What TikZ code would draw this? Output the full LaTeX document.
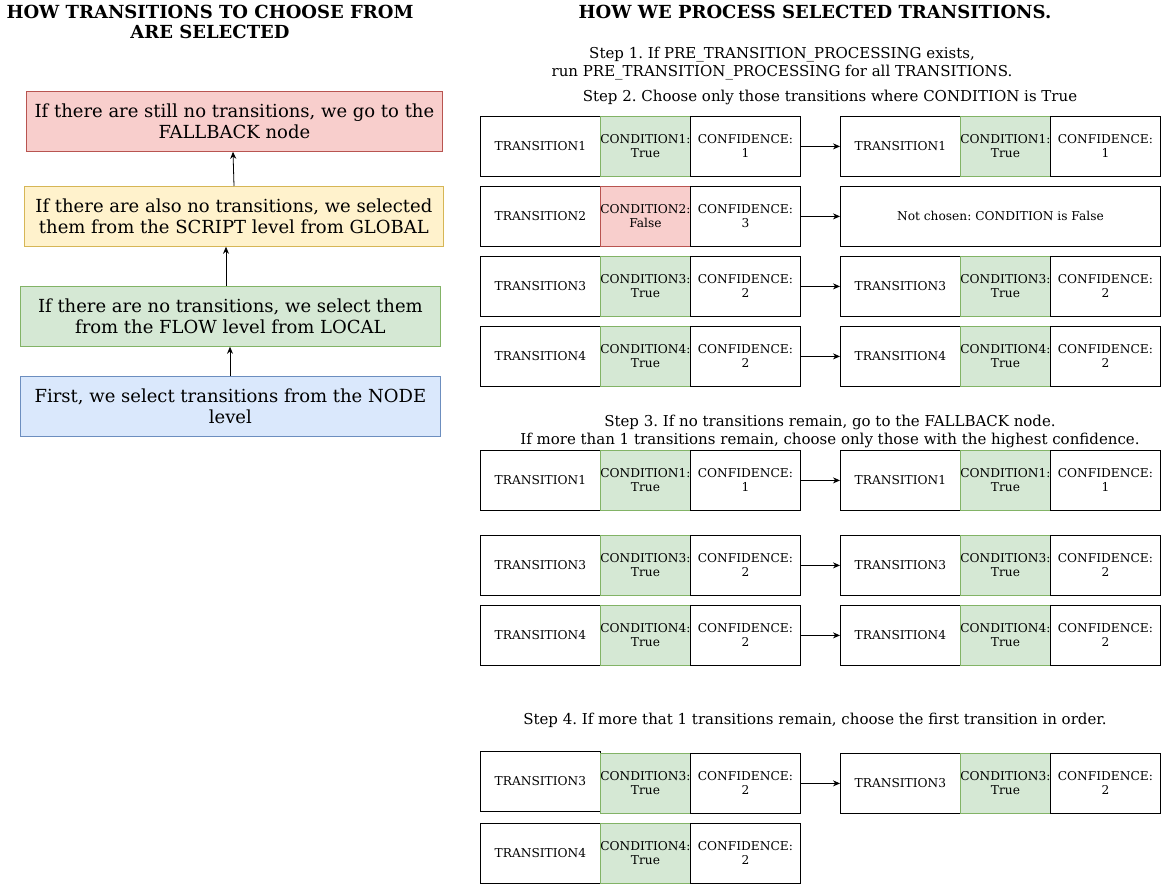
\documentclass[tikz,border=0pt]{standalone}
\usepackage{fontspec}
\setmainfont{DejaVu Serif}
\usetikzlibrary{arrows.meta}
\frenchspacing
\definecolor{gfill}{HTML}{D5E8D4}\definecolor{gline}{HTML}{82B366}
\definecolor{rfill}{HTML}{F8CECC}\definecolor{rline}{HTML}{B85450}
\definecolor{yfill}{HTML}{FFF2CC}\definecolor{yline}{HTML}{D6B656}
\definecolor{bfill}{HTML}{DAE8FC}\definecolor{bline}{HTML}{6C8EBF}
\tikzset{
  cell/.style={draw, line width=0.8pt, minimum height=60pt, inner sep=0pt, align=center,
    font=\fontsize{12.2}{14}\selectfont, anchor=north west},
  ok/.style={fill=gfill, draw=gline},
  bad/.style={fill=rfill, draw=rline},
  bigbox/.style={draw, line width=0.8pt, minimum height=60pt, inner sep=0pt, align=center,
    font=\fontsize{18}{21}\selectfont, anchor=north west},
  title/.style={align=center, font=\bfseries\fontsize{18}{20}\selectfont},
  steptxt/.style={align=center, font=\fontsize{15}{18}\selectfont},
  arr/.style={-{Stealth[length=7pt,width=6pt]}, line width=0.8pt},
}
\newcommand\tgrp[7]{%
  \node[cell, minimum width=120pt] (#1t) at (#2,#3) {#4};
  \node[cell, #6, minimum width=90pt] (#1c) at ({#2+120},#3) {#5};
  \node[cell, minimum width=110pt] (#1f) at ({#2+210},#3) {CONFIDENCE:\\#7};
}
\begin{document}
\begin{tikzpicture}[x=1pt,y=-1pt]
\useasboundingbox (0,0) rectangle (1162,885);
% left column
\node[title] (lt) at (210,22) {HOW TRANSITIONS TO CHOOSE FROM\\ARE SELECTED};
\node[bigbox, fill=rfill, draw=rline, minimum width=416pt] (red) at (26,91) {If there are still no transitions, we go to the\\FALLBACK node};
\node[bigbox, fill=yfill, draw=yline, minimum width=419pt] (yel) at (24,186) {If there are also no transitions, we selected\\them from the SCRIPT level from GLOBAL};
\node[bigbox, fill=gfill, draw=gline, minimum width=420pt] (grn) at (20,286) {If there are no transitions, we select them\\from the FLOW level from LOCAL};
\node[bigbox, fill=bfill, draw=bline, minimum width=420pt] (blu) at (20,376) {First, we select transitions from the NODE\\level};
\draw[arr] (blu.north -| 230,0) -- (grn.south -| 230,0);
\draw[arr] (grn.north -| 226,0) -- (yel.south -| 226,0);
\draw[arr] (yel.north -| 234,0) -- (red.south -| 233,0);
% right column
\node[title] (rt) at (815,12) {HOW WE PROCESS SELECTED TRANSITIONS.};
\node[steptxt] (s1) at (782,64) {Step 1. If PRE\_TRANSITION\_PROCESSING exists,\\run PRE\_TRANSITION\_PROCESSING for all TRANSITIONS.};
\node[steptxt] (s2) at (830,97) {Step 2. Choose only those transitions where CONDITION is True};
% step 2
\tgrp{a1}{480}{116}{TRANSITION1}{CONDITION1:\\True}{ok}{1}
\tgrp{b1}{840}{116}{TRANSITION1}{CONDITION1:\\True}{ok}{1}
\tgrp{a2}{480}{186}{TRANSITION2}{CONDITION2:\\False}{bad}{3}
\node[cell, minimum width=320pt] (b2) at (840,186) {Not chosen: CONDITION is False};
\tgrp{a3}{480}{256}{TRANSITION3}{CONDITION3:\\True}{ok}{2}
\tgrp{b3}{840}{256}{TRANSITION3}{CONDITION3:\\True}{ok}{2}
\tgrp{a4}{480}{326}{TRANSITION4}{CONDITION4:\\True}{ok}{2}
\tgrp{b4}{840}{326}{TRANSITION4}{CONDITION4:\\True}{ok}{2}
\draw[arr] (a1f) -- (b1t);
\draw[arr] (a2f) -- (b2);
\draw[arr] (a3f) -- (b3t);
\draw[arr] (a4f) -- (b4t);
% step 3
\node[steptxt] (s3) at (830,431.5) {Step 3. If no transitions remain, go to the FALLBACK node.\\If more than 1 transitions remain, choose only those with the highest confidence.};
\tgrp{c1}{480}{450}{TRANSITION1}{CONDITION1:\\True}{ok}{1}
\tgrp{d1}{840}{450}{TRANSITION1}{CONDITION1:\\True}{ok}{1}
\tgrp{c3}{480}{535}{TRANSITION3}{CONDITION3:\\True}{ok}{2}
\tgrp{d3}{840}{535}{TRANSITION3}{CONDITION3:\\True}{ok}{2}
\tgrp{c4}{480}{605}{TRANSITION4}{CONDITION4:\\True}{ok}{2}
\tgrp{d4}{840}{605}{TRANSITION4}{CONDITION4:\\True}{ok}{2}
\draw[arr] (c1f) -- (d1t);
\draw[arr] (c3f) -- (d3t);
\draw[arr] (c4f) -- (d4t);
% step 4
\node[steptxt] (s4) at (815,720) {Step 4. If more that 1 transitions remain, choose the first transition in order.};
\node[cell, minimum width=120pt] (e3t) at (480,751) {TRANSITION3};
\node[cell, ok, minimum width=90pt] (e3c) at (600,753) {CONDITION3:\\True};
\node[cell, minimum width=110pt] (e3f) at (690,753) {CONFIDENCE:\\2};
\tgrp{f3}{840}{753}{TRANSITION3}{CONDITION3:\\True}{ok}{2}
\tgrp{e4}{480}{823}{TRANSITION4}{CONDITION4:\\True}{ok}{2}
\draw[arr] (e3f) -- (f3t);
\end{tikzpicture}
\end{document}
